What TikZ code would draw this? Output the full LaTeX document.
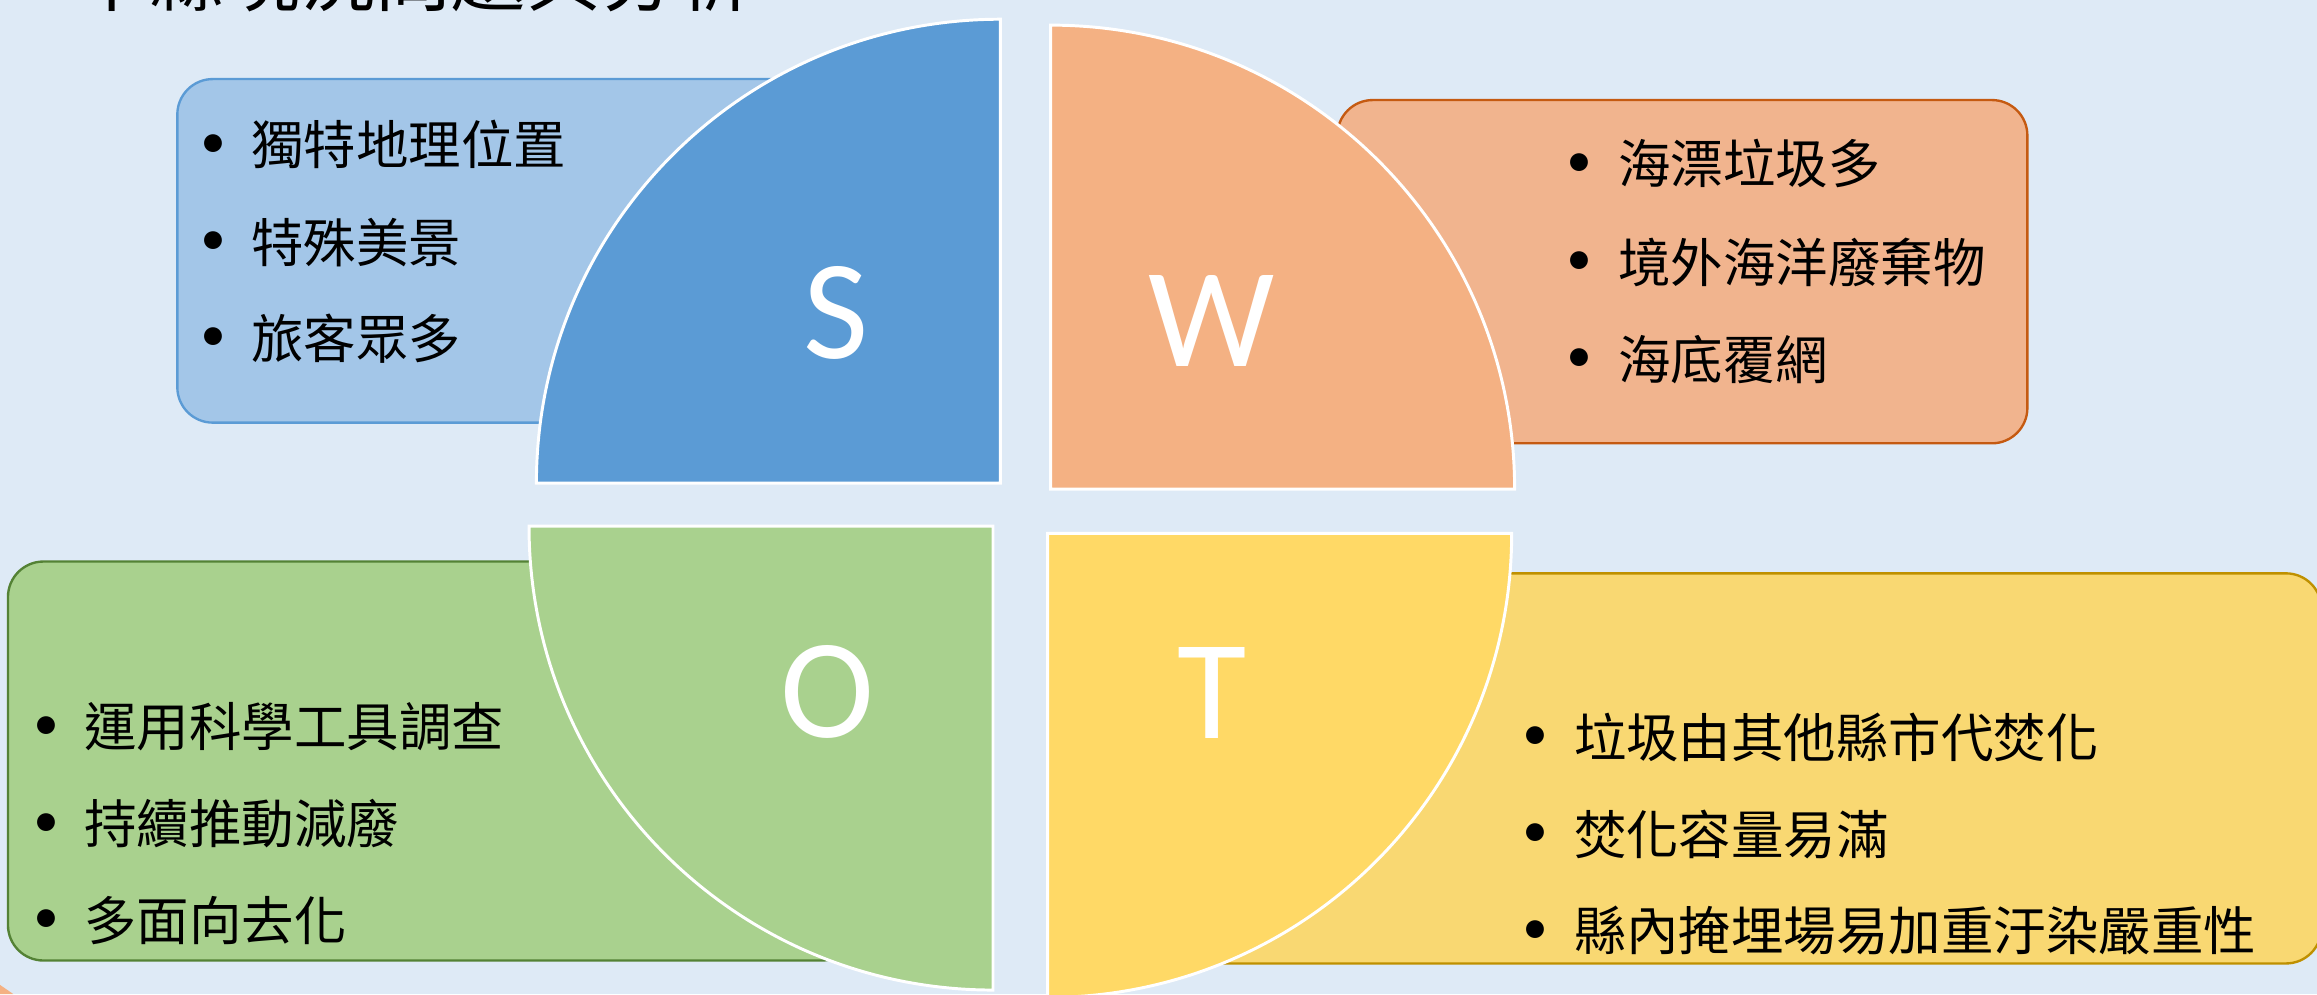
\documentclass[tikz,border=0pt]{standalone}
\usepackage{fontspec}
\setmainfont{Carlito}
\newfontfamily\cjk{Noto Sans CJK TC}
\definecolor{bgc}{HTML}{DEEAF6}
\definecolor{sbox}{HTML}{A3C6E8}
\definecolor{sline}{HTML}{5B9BD5}
\definecolor{squar}{HTML}{5B9BD5}
\definecolor{wbox}{HTML}{F1B48E}
\definecolor{wline}{HTML}{C55A11}
\definecolor{wquar}{HTML}{F4B183}
\definecolor{obox}{HTML}{A9D18E}
\definecolor{oline}{HTML}{548235}
\definecolor{oquar}{HTML}{A9D18E}
\definecolor{tbox}{HTML}{F9D872}
\definecolor{tline}{HTML}{BF9000}
\definecolor{tquar}{HTML}{FFD966}
\tikzset{
  boxstyle/.style={rounded corners=24pt, line width=1.6pt},
  quarter/.style={draw=white, line width=2pt},
  letter/.style={text=white, inner sep=0pt, font=\fontsize{96}{96}\selectfont},
  item/.style={anchor=base west, inner sep=0pt, font=\cjk\fontsize{35.5}{36}\selectfont},
  titlestyle/.style={anchor=base west, inner sep=0pt, font=\cjk\fontsize{51}{51}\selectfont}
}
\newcommand{\bul}[1]{\makebox[0pt]{\raisebox{-7pt}{\scalebox{1.6}{•}}}\hspace{26pt}#1}
\begin{document}
\begin{tikzpicture}[x=1pt,y=-1pt]
\useasboundingbox (0,0) rectangle (1568,672.7);
\fill[bgc] (0,0) rectangle (1568,672.7);
% title (cut off at top)
\node[titlestyle] (title) at (50,3.5) {本縣現況問題與分析};
% boxes
\draw[boxstyle, fill=sbox, draw=sline] (120,53.5) rectangle (580,286);
\draw[boxstyle, fill=wbox, draw=wline] (905,67.7) rectangle (1372,300);
\draw[boxstyle, fill=obox, draw=oline] (5.4,380) rectangle (580,650);
\draw[boxstyle, fill=tbox, draw=tline] (760,388) rectangle (1571,652);
% box texts
\node[item] (s1) at (144,111.5) {\bul{獨特地理位置}};
\node[item] (s2) at (144,177.5) {\bul{特殊美景}};
\node[item] (s3) at (144,242.5) {\bul{旅客眾多}};
\node[item] (w1) at (1069,124.5) {\bul{海漂垃圾多}};
\node[item] (w2) at (1069,191) {\bul{境外海洋廢棄物}};
\node[item] (w3) at (1069,256.5) {\bul{海底覆網}};
\node[item] (o1) at (31,505.3) {\bul{運用科學工具調查}};
\node[item] (o2) at (31,571) {\bul{持續推動減廢}};
\node[item] (o3) at (31,636.5) {\bul{多面向去化}};
\node[item] (t1) at (1039,512.5) {\bul{垃圾由其他縣市代焚化}};
\node[item] (t2) at (1039,578) {\bul{焚化容量易滿}};
\node[item] (t3) at (1039,643.5) {\bul{縣內掩埋場易加重汙染嚴重性}};
% quarters
\path[quarter, fill=squar] (677,327) -- (363,327) arc[start angle=180, end angle=90, radius=314pt] -- cycle;
\path[quarter, fill=wquar] (711,331) -- (711,17) arc[start angle=90, end angle=0, radius=314pt] -- cycle;
\path[quarter, fill=oquar] (672,356) -- (358,356) arc[start angle=180, end angle=270, radius=314pt] -- cycle;
\path[quarter, fill=tquar] (709,361) -- (1023,361) arc[start angle=0, end angle=-90, radius=314pt] -- cycle;
% letters
\node[letter] (S) at (566,212) {S};
\node[letter] (W) at (820,217) {W};
\node[letter] (O) at (560,468) {O};
\node[letter] (T) at (820,469) {T};
% small corner
\fill[wquar] (0,672.7) -- (0,666.5) -- (9,672.7) -- cycle;
\end{tikzpicture}
\end{document}
